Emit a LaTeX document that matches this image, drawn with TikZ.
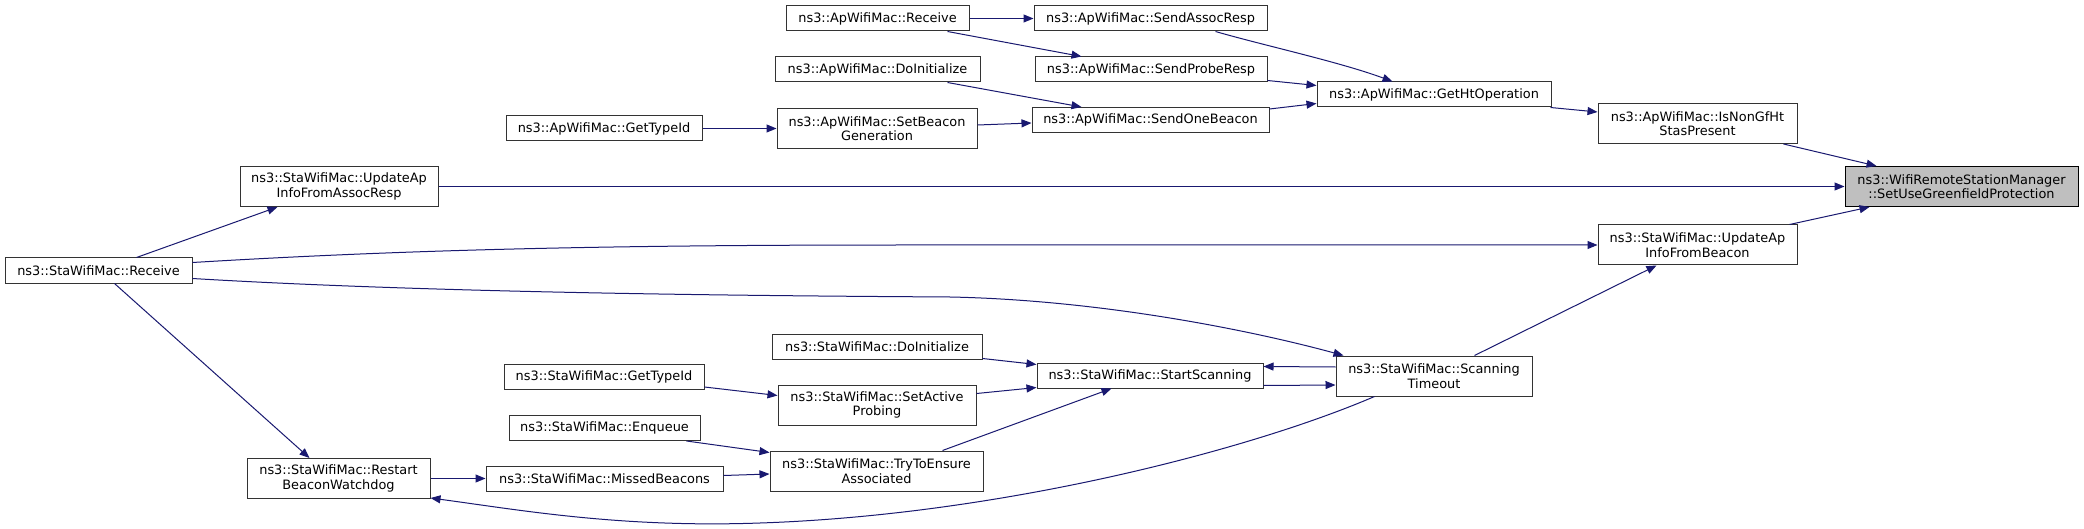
\documentclass[tikz,border=0pt]{standalone}
\usepackage{fontspec}
\setmainfont{DejaVu Sans}
\usetikzlibrary{arrows.meta,calc}
\definecolor{edgeblue}{HTML}{191970}
\definecolor{rootfill}{HTML}{BFBFBF}
\definecolor{boxline}{HTML}{333333}
\tikzset{
  fn/.style={draw=boxline, line width=1pt, fill=white, inner sep=0pt, align=center,
    font=\fontsize{12.9}{14.4}\selectfont, minimum height=25pt},
  fn2/.style={fn, minimum height=40pt},
  root/.style={fn2, fill=rootfill, draw=black},
  call/.style={draw=edgeblue, line width=1pt, -{Triangle[length=10pt,width=8pt]}}
}
\begin{document}
\begin{tikzpicture}[x=1pt,y=-1pt]
\useasboundingbox[fill=white] (0,0) rectangle (2084,529);
% nodes
\node[root, minimum width=233pt] (target) at (1961.5,186.5) {ns3::WifiRemoteStationManager\\::SetUseGreenfieldProtection};
\node[fn, minimum width=187pt] (staRecv) at (98.5,270.5) {ns3::StaWifiMac::Receive};
\node[fn2, minimum width=198pt] (staAssoc) at (339,186.5) {ns3::StaWifiMac::UpdateAp\\InfoFromAssocResp};
\node[fn2, minimum width=183pt] (staRestart) at (338.5,478.5) {ns3::StaWifiMac::Restart\\BeaconWatchdog};
\node[fn, minimum width=196pt] (apGetType) at (604,128.5) {ns3::ApWifiMac::GetTypeId};
\node[fn, minimum width=200pt] (staGetType) at (604,377) {ns3::StaWifiMac::GetTypeId};
\node[fn, minimum width=191pt] (staEnqueue) at (604.5,428) {ns3::StaWifiMac::Enqueue};
\node[fn, minimum width=237pt] (staMissed) at (604.5,478.5) {ns3::StaWifiMac::MissedBeacons};
\node[fn, minimum width=183pt] (apRecv) at (877.5,18.5) {ns3::ApWifiMac::Receive};
\node[fn, minimum width=205pt] (apDoInit) at (877.5,69.5) {ns3::ApWifiMac::DoInitialize};
\node[fn2, minimum width=200pt] (apSetBeacon) at (877,128.5) {ns3::ApWifiMac::SetBeacon\\Generation};
\node[fn, minimum width=210pt] (staDoInit) at (877,346.5) {ns3::StaWifiMac::DoInitialize};
\node[fn2, minimum width=198pt] (staActive) at (877,405) {ns3::StaWifiMac::SetActive\\Probing};
\node[fn2, minimum width=213pt] (staTry) at (876.5,471) {ns3::StaWifiMac::TryToEnsure\\Associated};
\node[fn, minimum width=233pt] (apAssoc) at (1150.5,18.5) {ns3::ApWifiMac::SendAssocResp};
\node[fn, minimum width=232pt] (apProbe) at (1151,69.5) {ns3::ApWifiMac::SendProbeResp};
\node[fn, minimum width=237pt] (apOneBeacon) at (1150.5,120) {ns3::ApWifiMac::SendOneBeacon};
\node[fn, minimum width=226pt] (staStart) at (1150,375.5) {ns3::StaWifiMac::StartScanning};
\node[fn, minimum width=234pt] (apHtOp) at (1434,94.5) {ns3::ApWifiMac::GetHtOperation};
\node[fn2, minimum width=196pt] (staScanTO) at (1434,376) {ns3::StaWifiMac::Scanning\\Timeout};
\node[fn2, minimum width=199pt] (apNonGf) at (1697.5,123.5) {ns3::ApWifiMac::IsNonGfHt\\StasPresent};
\node[fn2, minimum width=199pt] (staBeacon) at (1697.5,245) {ns3::StaWifiMac::UpdateAp\\InfoFromBeacon};
% edges: AP side
\draw[call] (apRecv.east) -- (apAssoc.west);
\draw[call] ($(apRecv.south west)+(162,0)$) -- ($(apProbe.north west)+(47,0)$);
\draw[call] ($(apAssoc.south west)+(182,0)$) .. controls (1262,45) and (1340,62) .. ($(apHtOp.north west)+(76,0)$);
\draw[call] ($(apProbe.south east)+(0,-2)$) -- ($(apHtOp.north west)+(0,4)$);
\draw[call] ($(apOneBeacon.north east)+(0,2)$) -- ($(apHtOp.south west)+(0,-4)$);
\draw[call] ($(apHtOp.south east)+(-1,0)$) -- ($(apNonGf.north west)+(0,9)$);
\draw[call] ($(apDoInit.south west)+(173,0)$) -- ($(apOneBeacon.north west)+(50,0)$);
\draw[call] ($(apSetBeacon.north east)+(0,17)$) -- ($(apOneBeacon.north west)+(0,16)$);
\draw[call] (apGetType.east) -- (apSetBeacon.west);
\draw[call] ($(apNonGf.south east)+(-14,0)$) -- ($(target.north west)+(32,0)$);
% edges: STA side
\draw[call] (staAssoc.east) -- (target.west);
\draw[call] ($(staBeacon.north east)+(-8,0)$) -- ($(target.south west)+(25,0)$);
\draw[call] ($(staRecv.north west)+(132,0)$) -- ($(staAssoc.south west)+(38,0)$);
\draw[call] ($(staRecv.north east)+(0,5)$) .. controls (400,250) and (600,245) .. (900,245) -- (staBeacon.west);
\draw[call] ($(staRecv.south east)+(0,-5)$) .. controls (450,294) and (800,296) .. (950,297) .. controls (1100,300) and (1250,330) .. ($(staScanTO.north west)+(8,0)$);
\draw[call] ($(staRecv.south west)+(110,0)$) -- ($(staRestart.north west)+(63,0)$);
\draw[call] (staRestart.east) -- (staMissed.west);
\draw[call] ($(staMissed.east)+(0,-3)$) -- ($(staTry.west)+(0,3)$);
\draw[call] ($(staEnqueue.south west)+(178,0)$) -- ($(staTry.north west)+(0,2)$);
\draw[call] ($(staGetType.south east)+(0,-3)$) -- ($(staActive.north west)+(0,11)$);
\draw[call] ($(staDoInit.south east)+(0,-1)$) -- ($(staStart.north west)+(0,2)$);
\draw[call] ($(staActive.north east)+(0,9)$) -- ($(staStart.south west)+(0,-1)$);
\draw[call] ($(staTry.north west)+(173,0)$) -- ($(staStart.south west)+(75,0)$);
\draw[call] ($(staStart.south east)+(0,-3)$) -- ($(staScanTO.west)+(0,9)$);
\draw[call] ($(staScanTO.west)+(0,-9)$) -- ($(staStart.north east)+(0,4)$);
\draw[call] ($(staScanTO.north west)+(139,0)$) -- ($(staBeacon.south west)+(59,0)$);
\draw[call] ($(staScanTO.south west)+(39,0)$) .. controls (1250,450) and (1000,515) .. (760,523) .. controls (620,528) and (520,510) .. ($(staRestart.south east)+(0,-1)$);
\end{tikzpicture}
\end{document}
